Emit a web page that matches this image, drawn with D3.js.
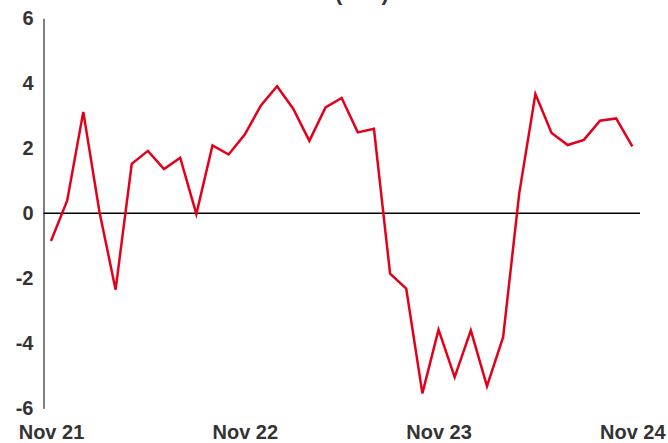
<!DOCTYPE html>
<html>
<head>
<meta charset="utf-8">
<script src="https://cdn.jsdelivr.net/npm/d3@7"></script>
<style>
  body { margin: 0; background: #fff; }
  svg { display: block; font-family: "Liberation Sans", Arial, sans-serif; }
</style>
</head>
<body>
<div id="chart"></div>
<script>
// monthly values, Nov 21 .. Nov 24
const values = [
  -0.85, 0.39, 3.12, 0.05, -2.35, 1.52, 1.92, 1.36, 1.71, -0.02, 2.09, 1.81,
  2.42, 3.32, 3.91, 3.22, 2.23, 3.26, 3.55, 2.49, 2.60, -1.86, -2.32,
  -5.54, -3.58, -5.04, -3.60, -5.32, -3.81, 0.62, 3.67, 2.47, 2.10, 2.26, 2.85, 2.92, 2.06
];
const months = d3.timeMonth.range(new Date(2021, 10, 1), new Date(2024, 11, 1));
const xTickLabels = ["Nov 21", "Nov 22", "Nov 23", "Nov 24"];
const yTicks = [-6, -4, -2, 0, 2, 4, 6];
const titleText = "(£bn)";

const width = 668, height = 443;
const textColor = "#333333";

const svg = d3.select("#chart").append("svg")
  .attr("width", width)
  .attr("height", height);

const x = d3.scalePoint()
  .domain(d3.range(months.length))
  .range([51, 632.3]);

const y = d3.scaleLinear()
  .domain([-6, 6])
  .range([408.3, 18.3]);

// title (cut off at the top, only the bottom of the brackets shows)
svg.append("text")
  .attr("x", 362)
  .attr("y", -0.5)
  .attr("text-anchor", "middle")
  .attr("font-size", 22)
  .attr("font-weight", "bold")
  .attr("fill", textColor)
  .text(titleText);

// y axis
const yAxis = d3.axisLeft(y).tickValues(yTicks).tickSize(0).tickPadding(10)
  .tickFormat(d => String(d));
const gY = svg.append("g")
  .attr("transform", "translate(43.5,0)")
  .call(yAxis);
gY.select(".domain").attr("stroke", "#000").attr("stroke-width", 1);
gY.selectAll("text")
  .attr("font-size", 20)
  .attr("font-weight", "bold")
  .attr("fill", textColor)
  .attr("font-family", "Liberation Sans, Arial, sans-serif");

// x axis labels (every 12 months)
const xAxis = d3.axisBottom(x)
  .tickValues([0, 12, 24, 36])
  .tickSize(0)
  .tickPadding(0)
  .tickFormat((d, i) => xTickLabels[i]);
const gX = svg.append("g")
  .attr("transform", "translate(0,425)")
  .call(xAxis);
gX.select(".domain").remove();
gX.selectAll("text")
  .attr("font-size", 20)
  .attr("font-weight", "bold")
  .attr("fill", textColor)
  .attr("font-family", "Liberation Sans, Arial, sans-serif");

// zero line
svg.append("line")
  .attr("x1", 43.5)
  .attr("x2", 640)
  .attr("y1", y(0))
  .attr("y2", y(0))
  .attr("stroke", "#000")
  .attr("stroke-width", 1.5);

// series
const line = d3.line()
  .x((d, i) => x(i))
  .y(d => y(d));

svg.append("path")
  .datum(values)
  .attr("fill", "none")
  .attr("stroke", "#e2001a")
  .attr("stroke-width", 2.5)
  .attr("stroke-linejoin", "miter")
  .attr("d", line);
</script>
</body>
</html>
